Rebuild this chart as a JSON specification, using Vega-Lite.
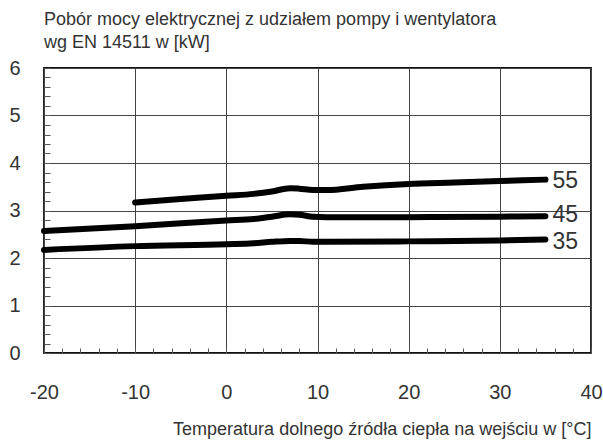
{
  "$schema": "https://vega.github.io/schema/vega-lite/v6.json",
  "width": 547,
  "height": 285,
  "autosize": "none",
  "padding": {"left": 44, "top": 68, "right": 12, "bottom": 93},
  "background": "white",
  "config": {
    "font": "Liberation Sans",
    "view": {"stroke": "#111", "strokeWidth": 1.8},
    "axis": {"labelFont": "Liberation Sans", "titleFont": "Liberation Sans", "labelFontWeight": "normal", "titleFontWeight": "normal"}
  },
  "title": {
    "text": ["Pobór mocy elektrycznej z udziałem pompy i wentylatora", "wg EN 14511 w [kW]"],
    "anchor": "start",
    "frame": "group",
    "font": "Liberation Sans",
    "fontSize": 18,
    "fontWeight": "normal",
    "color": "#333",
    "lineHeight": 23,
    "offset": 6
  },
  "datasets": {
    "curves": [
      {"t": -10, "p": 3.17, "s": "55"}, {"t": -5, "p": 3.24, "s": "55"}, {"t": 0, "p": 3.31, "s": "55"}, {"t": 3, "p": 3.35, "s": "55"}, {"t": 5, "p": 3.40, "s": "55"}, {"t": 7, "p": 3.47, "s": "55"}, {"t": 8, "p": 3.46, "s": "55"}, {"t": 9.5, "p": 3.43, "s": "55"}, {"t": 11, "p": 3.43, "s": "55"}, {"t": 15, "p": 3.50, "s": "55"}, {"t": 20, "p": 3.56, "s": "55"}, {"t": 25, "p": 3.59, "s": "55"}, {"t": 30, "p": 3.62, "s": "55"}, {"t": 35, "p": 3.65, "s": "55"},
      {"t": -20, "p": 2.57, "s": "45"}, {"t": -10, "p": 2.67, "s": "45"}, {"t": 0, "p": 2.79, "s": "45"}, {"t": 3, "p": 2.82, "s": "45"}, {"t": 5, "p": 2.87, "s": "45"}, {"t": 7, "p": 2.92, "s": "45"}, {"t": 8, "p": 2.91, "s": "45"}, {"t": 9.5, "p": 2.87, "s": "45"}, {"t": 11, "p": 2.86, "s": "45"}, {"t": 20, "p": 2.86, "s": "45"}, {"t": 30, "p": 2.87, "s": "45"}, {"t": 35, "p": 2.88, "s": "45"},
      {"t": -20, "p": 2.17, "s": "35"}, {"t": -10, "p": 2.25, "s": "35"}, {"t": 0, "p": 2.29, "s": "35"}, {"t": 3, "p": 2.31, "s": "35"}, {"t": 5, "p": 2.34, "s": "35"}, {"t": 7, "p": 2.36, "s": "35"}, {"t": 8, "p": 2.36, "s": "35"}, {"t": 9.5, "p": 2.34, "s": "35"}, {"t": 11, "p": 2.34, "s": "35"}, {"t": 20, "p": 2.35, "s": "35"}, {"t": 30, "p": 2.37, "s": "35"}, {"t": 35, "p": 2.39, "s": "35"}
    ],
    "labels": [
      {"t": 35, "p": 3.63, "lab": "55"},
      {"t": 35, "p": 2.91, "lab": "45"},
      {"t": 35, "p": 2.33, "lab": "35"}
    ]
  },
  "layer": [
    {
      "data": {"name": "curves"},
      "mark": {"type": "line", "color": "#000", "strokeWidth": 6, "strokeCap": "round", "strokeJoin": "round", "interpolate": "monotone"},
      "encoding": {
        "x": {
          "field": "t", "type": "quantitative",
          "scale": {"domain": [-20, 40], "nice": false, "zero": false},
          "axis": {
            "values": [-20, -18, -16, -14, -12, -10, -8, -6, -4, -2, 0, 2, 4, 6, 8, 10, 12, 14, 16, 18, 20, 22, 24, 26, 28, 30, 32, 34, 36, 38, 40],
            "tickCount": {"signal": "40"},
            "offset": -5,
            "labelExpr": "datum.value % 10 === 0 ? '' + datum.value : ''",
            "labelFontSize": 20, "labelColor": "#333", "labelPadding": 29,
            "labelFlush": false, "labelOverlap": false,
            "ticks": true,
            "tickSize": 5, "tickColor": "#555", "tickWidth": 1,
            "domain": false,
            "grid": true,
            "gridColor": "#444",
            "gridOpacity": {"condition": {"test": "datum.value % 10 === 0", "value": 1}, "value": 0},
            "title": "Temperatura dolnego źródła ciepła na wejściu w [°C]",
            "titleFontSize": 18, "titleColor": "#333", "titleAnchor": "end", "titlePadding": 18
          }
        },
        "y": {
          "field": "p", "type": "quantitative",
          "scale": {"domain": [0, 6], "nice": false},
          "axis": {
            "values": [0, 0.2, 0.4, 0.6, 0.8, 1, 1.2, 1.4, 1.6, 1.8, 2, 2.2, 2.4, 2.6, 2.8, 3, 3.2, 3.4, 3.6, 3.8, 4, 4.2, 4.4, 4.6, 4.8, 5, 5.2, 5.4, 5.6, 5.8, 6],
            "tickCount": {"signal": "40"},
            "offset": -6,
            "labelExpr": "abs(datum.value - round(datum.value)) < 0.001 ? '' + round(datum.value) : ''",
            "labelFontSize": 20, "labelColor": "#333", "labelPadding": 24,
            "labelFlush": false, "labelOverlap": false,
            "ticks": true,
            "tickSize": 6, "tickColor": "#555", "tickWidth": 1,
            "domain": false,
            "grid": true,
            "gridColor": "#444",
            "gridOpacity": {"condition": {"test": "abs(datum.value - round(datum.value)) < 0.001", "value": 1}, "value": 0},
            "title": null
          }
        },
        "detail": {"field": "s"}
      }
    },
    {
      "data": {"name": "labels"},
      "mark": {"type": "text", "align": "left", "baseline": "middle", "dx": 7, "fontSize": 23, "font": "Liberation Sans", "color": "#333"},
      "encoding": {
        "x": {"field": "t", "type": "quantitative"},
        "y": {"field": "p", "type": "quantitative"},
        "text": {"field": "lab"}
      }
    }
  ]
}
